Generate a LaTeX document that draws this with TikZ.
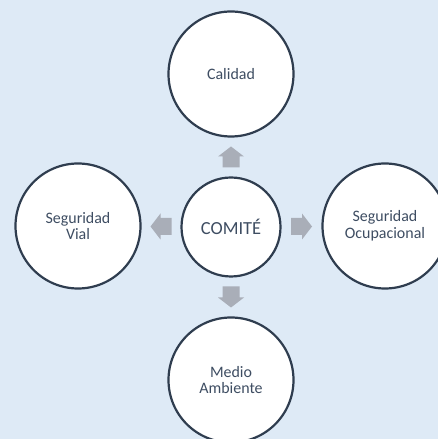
\documentclass[tikz,border=0pt]{standalone}
\usepackage{fontspec}
\setmainfont{Carlito}
\usetikzlibrary{calc}
\definecolor{bgc}{HTML}{DEEAF6}
\definecolor{linec}{HTML}{2F3D4F}
\definecolor{textc}{HTML}{3E4D62}
\definecolor{arrowc}{HTML}{A9AEB8}
\tikzset{
  bubble/.style={circle, draw=linec, line width=2.2bp, fill=white, inner sep=0pt,
    minimum size=125bp, align=center, text=textc,
    font=\fontsize{16}{17}\selectfont},
  hub/.style={bubble, minimum size=99bp, font=\fontsize{18.5}{20}\selectfont},
}
\newcommand\blockarrow[2]{%
  \fill[arrowc, shift={(#1)}, rotate=#2]
    (-10.5,-8.5) -- (0.5,-8.5) -- (0.5,-13) -- (10.5,0) -- (0.5,13)
    -- (0.5,8.5) -- (-10.5,8.5) -- cycle;}
\begin{document}
\begin{tikzpicture}[x=1bp,y=1bp]
\useasboundingbox (0,0) rectangle (438,439);
\clip (0,0) rectangle (438,439);
\fill[bgc] (0,0) rectangle (438,439);
\node[hub] (c) at (231,212) {COMITÉ};
\node[bubble] (t) at (231,365) {Calidad};
\node[bubble] (l) at (78,213) {Seguridad\\Vial};
\node[bubble] (r) at (385,213) {Seguridad\\Ocupacional};
\node[bubble] (b) at (231,59) {Medio\\Ambiente};
\coordinate (at) at ($(c.north)!0.5!(t.south)$);
\coordinate (ab) at ($(c.south)!0.5!(b.north)$);
\coordinate (al) at ($(c.west)!0.5!(l.east)$);
\coordinate (ar) at ($(c.east)!0.5!(r.west)$);
\blockarrow{at}{90}
\blockarrow{ab}{-90}
\blockarrow{al}{180}
\blockarrow{ar}{0}
\end{tikzpicture}
\end{document}
